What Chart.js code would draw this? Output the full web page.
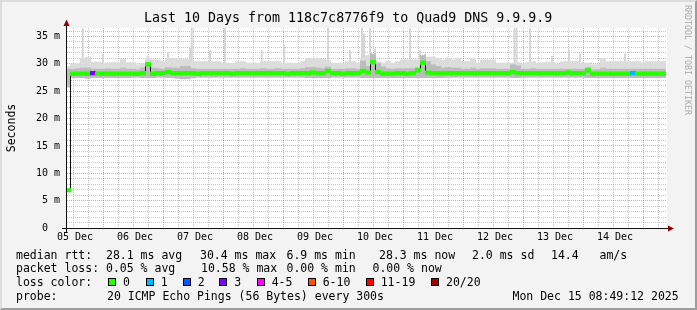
<!DOCTYPE html>
<html>
<head>
<meta charset="utf-8">
<title>SmokePing - Quad9 DNS</title>
<script src="https://cdn.jsdelivr.net/npm/chart.js@4/dist/chart.umd.min.js"></script>
<style>
  html, body { margin:0; padding:0; background:#f3f3f3; }
  #wrap { position:relative; width:697px; height:310px; background:#f3f3f3; overflow:hidden;
          font-family:"DejaVu Sans Mono", monospace; color:#000; }
  #frame { position:absolute; left:0; top:0; width:697px; height:310px; box-sizing:border-box;
           border-style:solid; border-width:2px; border-color:#dcdcdc #9c9c9c #9c9c9c #dcdcdc; pointer-events:none; }
  canvas { position:absolute; left:0; top:0; }
  .tx { position:absolute; white-space:pre; font-size:11.5px; line-height:14px; }
  .title { position:absolute; white-space:pre; font-size:13.3px; line-height:16px; left:144px; top:10.2px; }
  .box { position:absolute; width:8px; height:8px; box-sizing:border-box; border:1px solid #000; top:278px; }
  .ylab { position:absolute; left:-24px; top:120.5px; width:70px; text-align:center; white-space:pre;
          font-size:11.5px; line-height:14px; transform:rotate(-90deg); }
  .wm { position:absolute; left:628px; top:55px; width:120px; text-align:center; white-space:pre;
        font-size:8.3px; line-height:10px; color:#aaaaaa; transform:rotate(90deg); }
</style>
</head>
<body>
<div id="wrap">
  <canvas id="c" width="697" height="310" style="width:697px;height:310px"></canvas>
  <div class="title">Last 10 Days from 118c7c8776f9 to Quad9 DNS 9.9.9.9</div>
  <div class="ylab">Seconds</div>
  <div class="wm">RRDTOOL / TOBI OETIKER</div>

  <div class="tx" style="left:16px;top:247.5px">median rtt:  28.1 ms avg</div>
  <div class="tx" style="left:200px;top:247.5px">30.4 ms max</div>
  <div class="tx" style="left:286.5px;top:247.5px">6.9 ms min</div>
  <div class="tx" style="left:379px;top:247.5px">28.3 ms now</div>
  <div class="tx" style="left:472px;top:247.5px">2.0 ms sd</div>
  <div class="tx" style="left:551px;top:247.5px">14.4   am/s</div>

  <div class="tx" style="left:16px;top:261.3px">packet loss: 0.05 % avg</div>
  <div class="tx" style="left:201px;top:261.3px">10.58 % max</div>
  <div class="tx" style="left:286.5px;top:261.3px">0.00 % min</div>
  <div class="tx" style="left:372.5px;top:261.3px">0.00 % now</div>

  <div class="tx" style="left:16px;top:275.1px">loss color:</div>
  <div id="lossLegend"></div>

  <div class="tx" style="left:16px;top:289px">probe:</div>
  <div class="tx" style="left:107px;top:289px">20 ICMP Echo Pings (56 Bytes) every 300s</div>
  <div class="tx" style="left:512.5px;top:289px">Mon Dec 15 08:49:12 2025</div>
  <div id="frame"></div>
</div>
<script>
// ---------------- data (hours since 05 Dec 00:00) ----------------
const hours = [
  10,12,14,16,18,20,22,24,26,28,
  30,32,34,36,38,40,42,44,46,48,
  50,52,54,56,58,60,62,64,66,68,
  70,72,74,76,78,80,82,84,86,88,
  90,92,94,96,98,100,102,104,106,108,
  110,112,114,116,118,120,122,124,126,128,
  130,132,134,136,138,140,142,144,146,148,
  150,152,154,156,158,160,162,164,166,168,
  170,172,174,176,178,180,182,184,186,188,
  190,192,194,196,198,200,202,204,206,208,
  210,212,214,216,218,220,222,224,226,228,
  230,232,234,236,238,240,242,244,246,248
];
// median rtt (ms)
const median = [
  6.9,28.2,28.2,28.2,28.2,28.3,28.2,28.2,28.2,28.2,
  28.2,28.2,28.2,28.2,28.2,28.3,29.9,28.2,28.3,28.3,
  28.5,28.3,28.3,28.3,28.3,28.3,28.2,28.3,28.3,28.3,
  28.3,28.3,28.3,28.2,28.3,28.3,28.3,28.3,28.3,28.3,
  28.3,28.3,28.3,28.3,28.2,28.3,28.3,28.3,28.3,28.4,
  28.3,28.3,28.7,28.3,28.3,28.2,28.3,28.3,28.3,28.7,
  28.4,30.3,28.5,28.2,28.2,28.2,28.3,28.3,28.2,28.3,
  28.8,30.2,28.4,28.3,28.3,28.3,28.3,28.3,28.3,28.3,
  28.3,28.3,28.3,28.3,28.3,28.3,28.3,28.3,28.3,28.5,
  28.3,28.3,28.3,28.3,28.3,28.3,28.3,28.3,28.3,28.3,
  28.4,28.3,28.3,28.3,28.8,28.2,28.2,28.2,28.2,28.2,
  28.2,28.2,28.2,28.3,28.2,28.2,28.2,28.2,28.2,28.2
];
// packet loss (pings lost of 20)
const loss = [
  0,0,0,0,0,3,0,0,0,0, 0,0,0,0,0,0,0,0,0,0,
  0,0,0,0,0,0,0,0,0,0, 0,0,0,0,0,0,0,0,0,0,
  0,0,0,0,0,0,0,0,0,0, 0,0,0,0,0,0,0,0,0,0,
  0,0,0,0,0,0,0,0,0,0, 0,0,0,0,0,0,0,0,0,0,
  0,0,0,0,0,0,0,0,0,0, 0,0,0,0,0,0,0,0,0,0,
  0,0,0,0,0,0,0,0,0,0, 0,0,0,1,0,0,0,0,0,0
];
// smoke: lowest ping, inner band top, outer band top (ms)
const smokeLow = [
  25.8,27.5,27.5,27.5,27.4,27.5,27.5,27.5,27.5,27.5,
  27.5,27.5,27.5,27.6,27.6,27.5,27.5,27.5,27.6,27.6,
  27.5,27.5,27.4,27.3,27.3,27.5,27.6,27.6,27.6,27.6,
  27.6,27.6,27.6,27.6,27.6,27.6,27.6,27.6,27.6,27.6,
  27.6,27.6,27.6,27.6,27.6,27.6,27.6,27.6,27.5,27.5,
  27.5,27.5,27.5,27.6,27.6,27.6,27.6,27.6,27.6,27.5,
  27.5,27.5,27.5,27.5,27.5,27.5,27.5,27.5,27.5,27.5,
  27.5,27.5,27.5,27.5,27.5,27.5,27.6,27.6,27.6,27.6,
  27.6,27.6,27.6,27.6,27.6,27.6,27.6,27.6,27.6,27.5,
  27.5,27.6,27.6,27.6,27.6,27.6,27.6,27.6,27.6,27.6,
  27.6,27.6,27.6,27.6,27.5,27.5,27.5,27.5,27.5,27.5,
  27.5,27.5,27.5,27.5,27.5,27.5,27.5,27.5,27.5,27.5
];
const smokeMid = [
  29.0,29.0,29.1,29.2,29.2,29.0,29.0,29.0,29.1,29.0,
  29.0,29.2,29.0,29.0,28.9,29.2,30.3,29.2,29.1,29.0,
  29.3,29.2,29.2,29.5,29.5,29.1,29.0,29.0,29.0,29.0,
  29.0,29.0,29.0,29.0,29.0,29.1,29.0,29.0,29.0,29.1,
  29.0,29.0,29.1,29.0,29.0,29.0,29.0,29.1,29.3,29.3,
  29.2,29.1,29.4,29.0,29.0,29.0,29.1,29.1,29.0,30.5,
  29.5,31.8,30.0,29.4,29.1,29.0,29.1,29.1,29.1,29.1,
  29.3,31.5,30.4,29.8,29.5,29.2,29.3,29.2,29.2,29.0,
  29.0,29.2,29.0,29.1,29.1,29.1,29.0,29.0,29.0,29.8,
  29.6,29.0,29.0,29.1,29.0,29.0,29.0,29.0,29.0,29.0,
  29.0,29.0,29.0,29.0,29.3,28.9,28.9,29.2,29.0,29.0,
  29.0,29.0,29.0,29.0,29.0,29.0,29.0,29.0,29.0,29.0
];
const smokeTop = [
  29.5,30.0,30.0,31.0,31.2,30.3,30.3,30.0,30.2,30.2,
  30.2,30.8,30.2,30.2,29.8,30.0,31.0,30.7,30.7,30.4,
  31.0,31.0,31.0,30.8,30.8,30.4,30.4,30.4,30.4,30.4,
  30.4,30.1,30.1,30.1,30.4,30.4,30.1,30.1,30.1,30.4,
  30.4,30.4,30.4,30.1,30.1,30.1,30.1,30.4,31.0,31.0,
  31.0,30.8,30.6,30.1,30.1,30.1,30.4,30.4,30.1,31.0,
  31.5,31.5,30.4,30.1,30.4,30.1,30.4,30.7,30.7,30.7,
  30.7,31.0,31.2,31.2,31.0,30.7,31.0,30.7,31.0,30.4,
  30.4,31.0,30.1,30.7,30.7,30.7,30.1,30.1,30.1,30.1,
  30.2,29.9,30.2,30.4,30.0,30.2,30.3,30.2,29.9,30.4,
  30.4,30.4,30.4,30.1,30.1,29.8,29.8,31.0,30.4,30.4,
  30.4,30.4,30.4,30.4,30.4,30.1,30.4,30.4,30.4,30.4
];
// isolated slow-ping spikes
const spikeHours = [15.9,24.0,41.9,50.0,58.8,59.5,66.8,72.8,87.5,96.4,114.0,122.8,127.6,128.4,130.8,132.8,146.8,150.8,152.8,161.6,188.6,189.4,194.8,203.6,210.4,214.8,223.6,232.8];
const spikeTops  = [36.5,31.9,31.5,32.1,33.0,36.7,32.5,36.5,32.5,33.5,36.7,32.5,36.7,35.5,36.5,32.8,36.5,32.5,31.9,31.2,36.7,36.7,36.5,31.5,32.6,31.9,31.0,31.9];

// axis labels
const dayLabels = ['05 Dec','06 Dec','07 Dec','08 Dec','09 Dec','10 Dec','11 Dec','12 Dec','13 Dec','14 Dec'];
const dayNoonHours = [12,36,60,84,108,132,156,180,204,228];
const lossLabels = ['0','1','2','3','4-5','6-10','11-19','20/20'];
const lossColors = ['#26ff00','#00b8ff','#0059ff','#7e00ff','#ff00ff','#ff5500','#ff0000','#a10000'];

// ---------------- layout constants ----------------
const X_MIN = 9.6, X_MAX = 249.6, Y_MAX = 36.55;
const SPIKE_BASE = 29.8, CAP = 0.3;
const FONT = 'DejaVu Sans Mono';

// loss legend boxes
(function(){
  const boxX = [108,145.7,182.7,219.3,256.7,307.7,365.7,431];
  const holder = document.getElementById('lossLegend');
  lossLabels.forEach((lab, i) => {
    const b = document.createElement('div');
    b.className = 'box'; b.style.left = boxX[i] + 'px'; b.style.background = lossColors[i];
    holder.appendChild(b);
    const t = document.createElement('div');
    t.className = 'tx'; t.style.left = (boxX[i] + 15) + 'px'; t.style.top = '275.1px';
    t.textContent = lab;
    holder.appendChild(t);
  });
})();

const lossColorOf = l => l === 0 ? lossColors[0] : l === 1 ? lossColors[1] : l === 2 ? lossColors[2] :
  l === 3 ? lossColors[3] : l <= 5 ? lossColors[4] : l <= 10 ? lossColors[5] : l <= 19 ? lossColors[6] : lossColors[7];

const gridHours = [];
for (let h = 12; h < X_MAX; h += 6) gridHours.push(h);
const yTicks = [];
for (let v = 0; v <= 36; v++) yTicks.push(v);

const bgPlugin = {
  id: 'canvasBg',
  beforeDraw(c) {
    const {ctx, chartArea: a} = c;
    ctx.save(); ctx.fillStyle = '#ffffff';
    ctx.fillRect(a.left, a.top, a.right - a.left, a.bottom - a.top);
    ctx.restore();
  }
};
const axisPlugin = {
  id: 'axes',
  afterDatasetsDraw(c) {
    const {ctx, chartArea: a} = c;
    ctx.save();
    ctx.strokeStyle = '#101010'; ctx.lineWidth = 1;
    ctx.beginPath();
    ctx.moveTo(a.left - 5, a.bottom + 0.5); ctx.lineTo(a.right + 1, a.bottom + 0.5);
    ctx.moveTo(a.left - 0.5, a.bottom + 4); ctx.lineTo(a.left - 0.5, a.top - 2);
    ctx.stroke();
    ctx.fillStyle = '#8b0000';
    ctx.beginPath();
    ctx.moveTo(a.left - 3.5, a.top - 2); ctx.lineTo(a.left + 2.5, a.top - 2); ctx.lineTo(a.left - 0.5, a.top - 8.5);
    ctx.closePath(); ctx.fill();
    ctx.beginPath();
    ctx.moveTo(a.right + 1, a.bottom - 2.5); ctx.lineTo(a.right + 1, a.bottom + 3.5); ctx.lineTo(a.right + 7, a.bottom + 0.5);
    ctx.closePath(); ctx.fill();
    ctx.restore();
  }
};

new Chart(document.getElementById('c'), {
  type: 'bar',
  data: {
    datasets: [
      { label: 'median', type: 'bar', order: 1, grouped: false, barThickness: 5, inflateAmount: 0.5, borderWidth: 0,
        data: hours.map((h, i) => ({x: h, y: [median[i] - CAP, median[i] + CAP]})),
        backgroundColor: loss.map(lossColorOf) },
      { label: 'median step', type: 'line', order: 2, stepped: 'middle', borderColor: '#111111', borderWidth: 1,
        pointRadius: 0, fill: false, data: hours.map((h, i) => ({x: h, y: median[i]})) },
      { label: 'inner smoke', type: 'bar', order: 3, grouped: false, barThickness: 5, inflateAmount: 0.5, borderWidth: 0,
        backgroundColor: '#bcbcbc',
        data: hours.map((h, i) => ({x: h, y: [smokeLow[i], smokeMid[i]]})) },
      { label: 'outer smoke', type: 'bar', order: 4, grouped: false, barThickness: 5, inflateAmount: 0.5, borderWidth: 0,
        backgroundColor: '#dcdcdc',
        data: hours.map((h, i) => ({x: h, y: [smokeLow[i], smokeTop[i]]})) },
      { label: 'spikes', type: 'bar', order: 5, grouped: false, barThickness: 2, inflateAmount: 0, borderWidth: 0,
        backgroundColor: '#d6d6d6',
        data: spikeHours.map((h, i) => ({x: h, y: [SPIKE_BASE, spikeTops[i]]})) }
    ]
  },
  options: {
    responsive: false,
    animation: false,
    events: [],
    layout: { padding: { left: 0, right: 30, top: 28, bottom: 0 } },
    plugins: { legend: { display: false }, tooltip: { enabled: false }, title: { display: false } },
    scales: {
      x: {
        type: 'linear', min: X_MIN, max: X_MAX, offset: false,
        grid: { offset: false, drawTicks: false, lineWidth: 1,
                color: ctx => (ctx.tick && ctx.tick.value % 24 === 0) ? 'rgba(222,80,80,0.55)' : 'rgba(143,143,143,0.5)' },
        border: { display: false, dash: [1, 1] },
        ticks: { autoSkip: false, maxRotation: 0, minRotation: 0, padding: 3, labelOffset: 2,
                 color: '#000', font: { family: FONT, size: 10 },
                 callback: v => { const k = dayNoonHours.indexOf(v); return k >= 0 ? dayLabels[k] : ''; } },
        afterBuildTicks: s => { s.ticks = gridHours.map(v => ({value: v})); },
        afterFit: s => { s.height = 82; }
      },
      y: {
        min: 0, max: Y_MAX,
        grid: { drawTicks: false, lineWidth: 1,
                color: ctx => (ctx.tick && ctx.tick.value % 5 === 0) ? 'rgba(222,80,80,0.55)' : 'rgba(143,143,143,0.5)' },
        border: { display: false, dash: [1, 1] },
        ticks: { autoSkip: false, padding: 7, color: '#000', font: { family: FONT, size: 10 },
                 callback: v => v % 5 === 0 ? (v === 0 ? '0  ' : v + ' m') : '' },
        afterBuildTicks: s => { s.ticks = yTicks.map(v => ({value: v})); },
        afterFit: s => { s.width = 67; }
      }
    }
  },
  plugins: [bgPlugin, axisPlugin]
});
</script>
</body>
</html>
